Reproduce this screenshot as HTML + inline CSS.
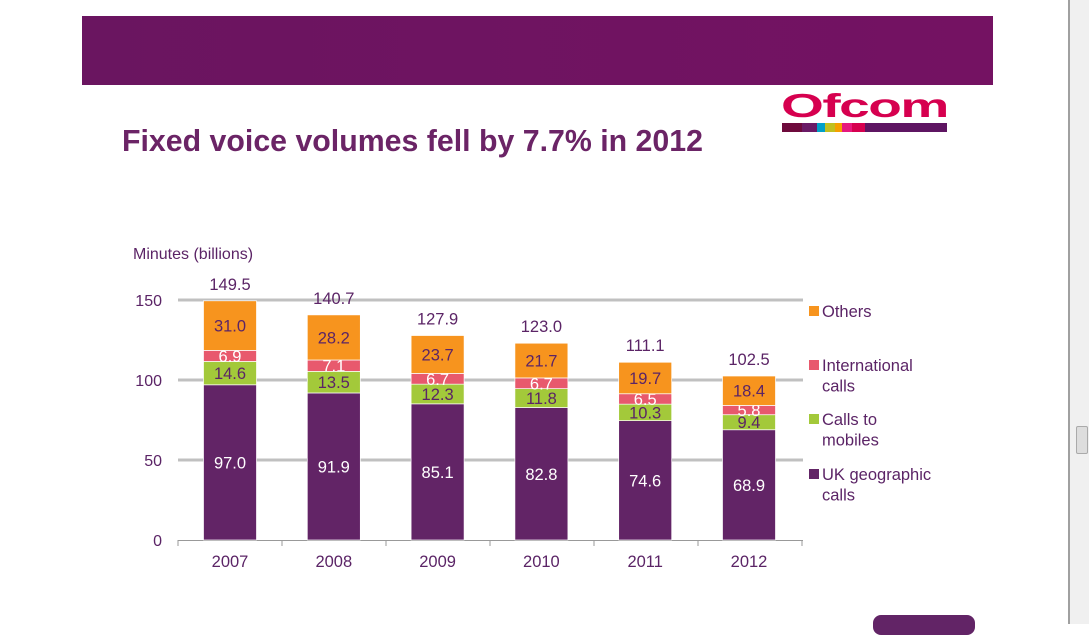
<!DOCTYPE html>
<html><head><meta charset="utf-8"><style>
body{margin:0;width:1089px;height:624px;overflow:hidden;background:#fff;font-family:"Liberation Sans",sans-serif;position:relative}
</style></head><body>
<div style="position:absolute;left:1068px;top:0;width:21px;height:624px;background:#f0f0f0;border-left:2px solid #a0a0a0;box-sizing:border-box"></div>
<div style="position:absolute;left:1076px;top:426px;width:10px;height:26px;background:#ddd;border:1px solid #aaa;border-radius:2px"></div>
<div style="position:absolute;left:82px;top:16px;width:911px;height:69px;background:linear-gradient(90deg,#6a1560,#741262)"></div>
<div style="position:absolute;left:781px;top:91px;width:170px;height:48px">
<div style="font:bold 36px 'Liberation Sans',sans-serif;color:#d6004f;line-height:32px;letter-spacing:-1px;transform:scale(1.53,0.92);transform-origin:top left;white-space:nowrap">Ofcom</div>
<div style="position:absolute;top:32px;left:1px;width:165px;height:9px;display:flex">
<span style="width:20px;background:#6e0a3c"></span><span style="width:15px;background:#6a1a66"></span><span style="width:8px;background:#00a0c8"></span><span style="width:10px;background:#c0c020"></span><span style="width:7px;background:#f5a000"></span><span style="width:10px;background:#e6197d"></span><span style="width:13px;background:#d6004f"></span><span style="flex:1;background:#5e1562"></span></div></div>
<div style="position:absolute;left:122px;top:125px;font-weight:bold;font-size:30.3px;color:#6b2466;white-space:nowrap">Fixed voice volumes fell by 7.7% in 2012</div>
<div style="position:absolute;left:873px;top:615px;width:102px;height:20px;background:#622466;border-radius:8px"></div>
<svg id="chart" width="1089" height="624" style="position:absolute;left:0;top:0"></svg>
<script>
const years=["2007","2008","2009","2010","2011","2012"];
const geo=[97.0,91.9,85.1,82.8,74.6,68.9];
const mob=[14.6,13.5,12.3,11.8,10.3,9.4];
const intl=[6.9,7.1,6.7,6.7,6.5,5.8];
const oth=[31.0,28.2,23.7,21.7,19.7,18.4];
const totals=[149.5,140.7,127.9,123.0,111.1,102.5];
const yTicks=[0,50,100,150];
const svg=document.getElementById('chart');const NS='http://www.w3.org/2000/svg';
function y(v){return 540-v*1.6;}
function x(i){return 230+i*103.8;}
function mk(t,a,txt){const e=document.createElementNS(NS,t);for(const k in a)e.setAttribute(k,a[k]);if(txt!==undefined)e.textContent=txt;svg.appendChild(e);return e;}
const txtC='#5b2466';
const yl=mk('text',{x:133,y:259,'font-size':16,fill:txtC},'Minutes (billions)');


yTicks.forEach(t=>{
 if(t>0){const g=mk('line',{x1:178,x2:803,y1:y(t),y2:y(t),stroke:'#c0c0c0','stroke-width':3});
 
 }
 const l=mk('text',{x:162,y:y(t)+6,'font-size':16,fill:txtC,'text-anchor':'end'},String(t));
 
 
});
const ax=mk('line',{x1:178,x2:803,y1:540.5,y2:540.5,stroke:'#999','stroke-width':1});


for(let i=0;i<=years.length;i++){const tx=178+i*104;const t=mk('line',{x1:tx,x2:tx,y1:540,y2:546,stroke:'#999'});

}
const series=[[geo,'#622466','#fff','uk-geographic'],[mob,'#a3c93a',txtC,'calls-to-mobiles'],[intl,'#e8596d','#fff','international'],[oth,'#f7941e',txtC,'others']];
years.forEach((yr,i)=>{
 let base=0;const cx=x(i);
 series.forEach(([arr,col,tc,nm])=>{
  const v=arr[i];
  const r=mk('rect',{x:cx-26.5,y:y(base+v),width:53,height:y(base)-y(base+v),fill:col,stroke:'#fff','stroke-width':0.7});
  
  
  const l=mk('text',{x:cx,y:(y(base)+y(base+v))/2+6,'font-size':16.5,fill:tc,'text-anchor':'middle'},v.toFixed(1));
  
  
  base+=v;
 });
 const tl=mk('text',{x:cx,y:y(totals[i])-11,'font-size':16.5,fill:txtC,'text-anchor':'middle'},totals[i].toFixed(1));
 
 
 const xl=mk('text',{x:cx,y:567,'font-size':16.5,fill:txtC,'text-anchor':'middle'},yr);
 
 
});
const legend=[['#f7941e',['Others'],311],['#e8596d',['International','calls'],365],['#a3c93a',['Calls to','mobiles'],419],['#622466',['UK geographic','calls'],474]];
legend.forEach(([c,lines,ty])=>{
 const s=mk('rect',{x:809,y:ty-5,width:10,height:10,fill:c});
 
 
 lines.forEach((ln,j)=>{const t=mk('text',{x:822,y:ty+6+j*20.5,'font-size':16.5,fill:txtC},ln);
 
 });
});
</script>
</body></html>
